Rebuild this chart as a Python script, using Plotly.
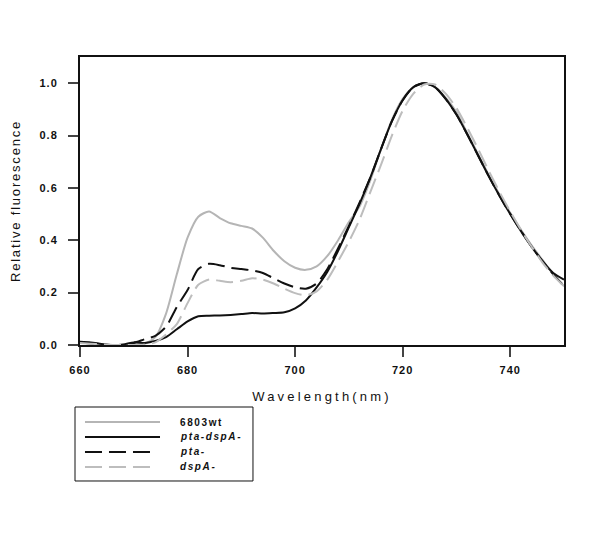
import plotly.graph_objects as go

wavelength = [660, 662, 664, 666, 668, 670, 672, 674, 676, 678, 680, 682, 684, 686, 688, 690,
              692, 694, 696, 698, 700, 702, 704, 706, 708, 710, 712, 714, 716, 718, 720, 722,
              724, 726, 728, 730, 732, 734, 736, 738, 740, 742, 744, 746, 748, 750]

wt_6803 = [0.010, 0.008, 0.003, 0.000, 0.000, 0.002, 0.005, 0.030, 0.120, 0.270, 0.410, 0.490,
           0.510, 0.485, 0.465, 0.455, 0.445, 0.410, 0.360, 0.320, 0.295, 0.287, 0.300, 0.340,
           0.400, 0.470, 0.530, 0.630, 0.750, 0.860, 0.940, 0.985, 1.000, 0.985, 0.945, 0.890,
           0.810, 0.730, 0.650, 0.575, 0.505, 0.440, 0.380, 0.325, 0.270, 0.225]

pta_dspA = [0.012, 0.010, 0.004, 0.000, 0.002, 0.010, 0.008, 0.015, 0.030, 0.060, 0.090, 0.110,
            0.112, 0.113, 0.115, 0.118, 0.122, 0.120, 0.122, 0.125, 0.140, 0.170, 0.220, 0.280,
            0.360, 0.450, 0.540, 0.640, 0.750, 0.855, 0.935, 0.985, 1.000, 0.985, 0.940, 0.880,
            0.805, 0.725, 0.645, 0.570, 0.500, 0.435, 0.375, 0.320, 0.275, 0.250]

pta = [0.010, 0.006, 0.002, 0.000, 0.000, 0.008, 0.022, 0.035, 0.070, 0.145, 0.210, 0.290,
       0.310, 0.305, 0.295, 0.290, 0.285, 0.275, 0.255, 0.235, 0.220, 0.215, 0.235, 0.290,
       0.370, 0.455, 0.545, 0.640, 0.750, 0.855, 0.935, 0.985, 1.000, 0.985, 0.940, 0.880,
       0.805, 0.725, 0.645, 0.570, 0.500, 0.435, 0.375, 0.320, 0.270, 0.225]

dspA = [0.008, 0.005, 0.002, 0.000, 0.000, 0.000, 0.002, 0.010, 0.040, 0.080, 0.160, 0.230,
        0.250, 0.245, 0.240, 0.245, 0.255, 0.250, 0.235, 0.215, 0.198, 0.190, 0.205, 0.250,
        0.320, 0.395, 0.480, 0.585, 0.690, 0.800, 0.895, 0.960, 0.995, 0.995, 0.960, 0.905,
        0.830, 0.750, 0.665, 0.585, 0.510, 0.440, 0.375, 0.315, 0.265, 0.225]

names = ["6803wt", "pta-dspA-", "pta-", "dspA-"]
name_styles = ["normal", "italic", "italic", "italic"]
x_ticks = [660, 680, 700, 720, 740]
y_ticks = [0.0, 0.2, 0.4, 0.6, 0.8, 1.0]

styles = [
    dict(color="#b5b5b5", width=2, dash="solid"),
    dict(color="#111111", width=2, dash="solid"),
    dict(color="#111111", width=2, dash="17px,7px"),
    dict(color="#bdbdbd", width=2, dash="17px,7px"),
]

fig = go.Figure()
for vals, line, name in zip([wt_6803, pta_dspA, pta, dspA], styles, names):
    fig.add_trace(go.Scatter(x=wavelength, y=vals, mode="lines", name=name, showlegend=False,
                             line=dict(shape="spline", smoothing=0.7, **line)))

# legend box drawn below the plot (paper coordinates)
leg_x0, leg_x1, leg_y0, leg_y1 = -0.0103, 0.3574, -0.2153, -0.4722
row_y = [-0.2674, -0.3194, -0.3715, -0.4236]
sample_x0, sample_x1_solid, sample_x1_dash, text_x = 0.0103, 0.1653, 0.1488, 0.2045

fig.add_shape(type="rect", xref="paper", yref="paper", x0=leg_x0, x1=leg_x1, y0=leg_y0, y1=leg_y1,
              line=dict(color="#111111", width=1), fillcolor="white", layer="above")
for ry, line, name, fstyle in zip(row_y, styles, names, name_styles):
    x1 = sample_x1_solid if line["dash"] == "solid" else sample_x1_dash
    fig.add_shape(type="line", xref="paper", yref="paper", x0=sample_x0, x1=x1, y0=ry, y1=ry,
                  line=dict(color=line["color"], width=line["width"], dash=line["dash"]),
                  layer="above")
    fig.add_annotation(xref="paper", yref="paper", x=text_x, y=ry, text=name, showarrow=False,
                       xanchor="left", yanchor="middle", align="left", borderpad=0,
                       font=dict(family="Liberation Sans, Arial", size=10, color="#111111",
                                 weight="bold", style=fstyle))

axis_font = dict(family="Liberation Sans, Arial", size=11, color="#111111", weight="bold")
fig.update_layout(
    width=600, height=543,
    margin=dict(l=72, r=44, t=49, b=206),
    plot_bgcolor="white", paper_bgcolor="white",
    font=dict(family="Liberation Sans, Arial", color="#111111"),
    showlegend=False,
    xaxis=dict(range=[660, 750], tickvals=x_ticks, ticks="outside", ticklen=10, tickwidth=2,
               ticklabelstandoff=4, automargin=False,
               showline=True, linewidth=2, linecolor="#111111", mirror=True, showgrid=False,
               zeroline=False, tickfont=axis_font,
               title=dict(text="Wavelength(nm)", font=dict(size=13, color="#111111"),
                          standoff=17)),
    yaxis=dict(range=[0, 1.1], tickvals=y_ticks, tickformat=".1f", ticks="outside", ticklen=10,
               tickwidth=2, ticklabelstandoff=8, automargin=False,
               showline=True, linewidth=2, linecolor="#111111", mirror=True,
               showgrid=False, zeroline=False, tickfont=axis_font,
               title=dict(text="Relative fluorescence", font=dict(size=13, color="#111111"),
                          standoff=24)),
)

post = """
var gd = document.getElementById('{plot_id}');
function spaceText() {
  gd.querySelectorAll('.g-xtitle text').forEach(function(e){ e.style.letterSpacing = '3.2px'; });
  gd.querySelectorAll('.g-ytitle text').forEach(function(e){ e.style.letterSpacing = '1.8px'; });
  gd.querySelectorAll('.annotation-text').forEach(function(e){ e.style.letterSpacing = '1.6px'; e.setAttribute('text-anchor', 'start'); });
  gd.querySelectorAll('.xtick text, .ytick text').forEach(function(e){ e.style.letterSpacing = '1px'; });
}
spaceText();
gd.on('plotly_afterplot', spaceText);
"""
fig.write_html("out.html", post_script=post)
